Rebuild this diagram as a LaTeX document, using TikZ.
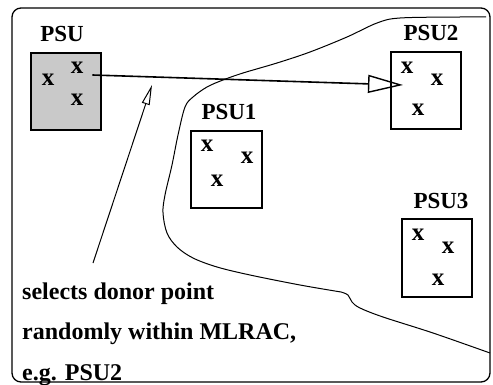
\documentclass[tikz,border=0pt]{standalone}
\usepackage{fontspec}
\setmainfont{Liberation Serif}
\usetikzlibrary{arrows.meta}
\begin{document}
\begin{tikzpicture}[x=1pt,y=-1pt,
  lbl/.style={font=\fontsize{23}{23}\selectfont\bfseries, inner sep=0pt, anchor=base},
  xm/.style={font=\fontsize{25}{25}\selectfont\bfseries, inner sep=0pt},
  psubox/.style={draw, line width=1.1pt, inner sep=0pt},
  bigarrow/.style={line width=1.6pt, -{Triangle[open, length=35pt, width=18pt, line width=1.4pt]}},
  ptrarrow/.style={line width=1pt, -{Triangle[open, length=20pt, width=8pt, line width=1pt]}}
]
\useasboundingbox (0,0) rectangle (493,385);
% outer frame
\draw[line width=1.3pt, rounded corners=9pt] (12,8) rectangle (490,382);
% MLRAC boundary
\draw[line width=1pt] plot[smooth, tension=0.55] coordinates {
  (486,17) (460,17) (400,18) (377,23) (347,37) (310,52) (277,63) (243,73)
  (223,80) (207,87) (193,97) (185,107) (178,135) (172,165) (165,195) (163,213)
  (167,233) (177,247) (193,258) (217,267) (250,275) (300,285) (341,292)};
\draw[line width=1pt] plot[smooth, tension=0.55] coordinates {
  (341,292) (348,295) (352,302) (360,308) (383,317) (433,333) (490,353)};
% boxes
\node[psubox, fill=gray!42, minimum width=70pt, minimum height=77pt] (psu) at (66,91.5) {};
\node[psubox, minimum width=71pt, minimum height=77pt] (psu1) at (226.5,169.5) {};
\node[psubox, minimum width=70pt, minimum height=77pt] (psu2) at (426,90.5) {};
\node[psubox, minimum width=70pt, minimum height=78pt] (psu3) at (437,258) {};
% labels
\node[lbl] (lpsu) at (62,42) {PSU};
\node[lbl] (lpsu1) at (229,120) {PSU1};
\node[lbl] (lpsu2) at (431,41) {PSU2};
\node[lbl] (lpsu3) at (441,208) {PSU3};
% x marks
\node[xm] (a1) at (48,80) {x};
\node[xm] (a2) at (77,68) {x};
\node[xm] (a3) at (77,100) {x};
\node[xm] (b1) at (207,146) {x};
\node[xm] (b2) at (247,158) {x};
\node[xm] (b3) at (217,181) {x};
\node[xm] (c1) at (407,68) {x};
\node[xm] (c2) at (437,80) {x};
\node[xm] (c3) at (418,110) {x};
\node[xm] (d1) at (418,235) {x};
\node[xm] (d2) at (448,248) {x};
\node[xm] (d3) at (438,280) {x};
% annotation
\node[font=\fontsize{24}{40.5}\selectfont\bfseries, inner sep=0pt, anchor=base west, align=left] (note) at (22,380)
  {selects donor point\\randomly within MLRAC,\\e.g. PSU2};
% arrows
\coordinate (tip2) at (403,85);
\coordinate (ptail) at (93,263);
\coordinate (ptip) at (152,85);
\draw[bigarrow] (a2.east) ++(9,7) -- (tip2);
\draw[ptrarrow] (ptail) -- (ptip);
\end{tikzpicture}
\end{document}
